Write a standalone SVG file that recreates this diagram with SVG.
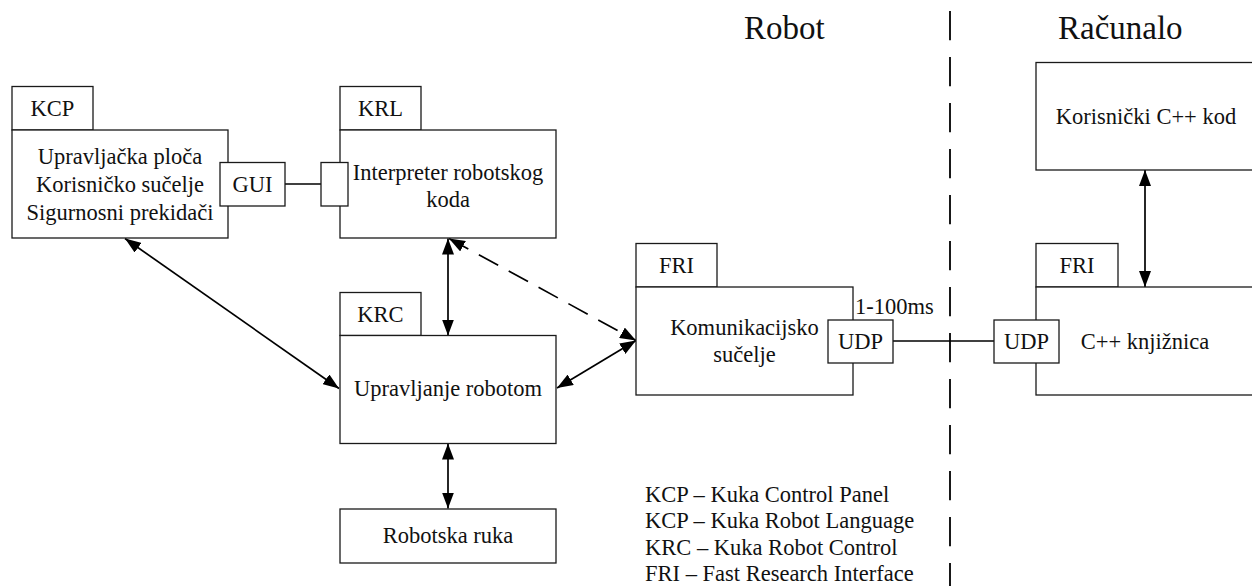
<svg xmlns="http://www.w3.org/2000/svg" width="1252" height="586" viewBox="0 0 1252 586">
<defs>
<style>
.box{fill:#fff;stroke:#1a1a1a;stroke-width:1.3}
.t{font-family:"Liberation Serif","Times New Roman",serif;font-size:22.5px;fill:#111;text-anchor:middle}
.tl{font-family:"Liberation Serif","Times New Roman",serif;font-size:22.5px;fill:#111}
.title{font-family:"Liberation Serif","Times New Roman",serif;font-size:33px;fill:#111}
.con{stroke:#000;stroke-width:1.7;fill:none}
.arr{marker-start:url(#ah);marker-end:url(#ah)}
</style>
<marker id="ah" markerUnits="userSpaceOnUse" markerWidth="17" markerHeight="12" refX="16" refY="6" orient="auto-start-reverse">
<path d="M0,0 L16,6 L0,12 z" fill="#000"/>
</marker>
</defs>
<rect width="1252" height="586" fill="#fff"/>

<g id="titles">
<text class="title" x="744" y="39">Robot</text>
<text class="title" x="1058" y="39">Računalo</text>
</g>

<g id="divider">
<line x1="950" y1="11" x2="950" y2="586" stroke="#000" stroke-width="1.8" stroke-dasharray="29.3 16.7"/>
</g>

<g id="connectors">
<line class="con" x1="285" y1="184" x2="321" y2="184"/>
<line class="con" x1="893" y1="341" x2="994" y2="341"/>
<line class="con arr" x1="125" y1="238.5" x2="339" y2="388.5"/>
<line class="con arr" x1="448" y1="238.5" x2="448" y2="335.5"/>
<line class="con arr" x1="448" y1="443.5" x2="448" y2="508.5"/>
<line class="con arr" x1="557" y1="388" x2="636" y2="340.5"/>
<line class="con arr" x1="449" y1="238.5" x2="636" y2="340.5" stroke-dasharray="22 12"/>
<line class="con arr" x1="1145" y1="170" x2="1145" y2="287"/>
</g>

<g id="kcp">
<rect class="box" x="12" y="86.5" width="81" height="43.5"/>
<text class="t" x="52.5" y="116">KCP</text>
<rect class="box" x="12" y="130" width="216" height="108"/>
<text class="t" x="120" y="164">Upravljačka ploča</text>
<text class="t" x="120" y="192">Korisničko sučelje</text>
<text class="t" x="120" y="220">Sigurnosni prekidači</text>
</g>

<g id="krl">
<rect class="box" x="340" y="86.5" width="81" height="43.5"/>
<text class="t" x="380.5" y="116">KRL</text>
<rect class="box" x="340" y="130" width="216" height="108"/>
<text class="t" x="448" y="180">Interpreter robotskog</text>
<text class="t" x="448" y="207">koda</text>
</g>

<g id="gui">
<rect class="box" x="220" y="162.5" width="65" height="43.5"/>
<text class="t" x="252.5" y="192">GUI</text>
</g>

<g id="krl-port">
<rect class="box" x="321" y="162.5" width="27" height="43.5"/>
</g>

<g id="krc">
<rect class="box" x="340" y="292.5" width="81" height="43"/>
<text class="t" x="380.5" y="322">KRC</text>
<rect class="box" x="340" y="335.5" width="216" height="108"/>
<text class="t" x="448" y="396">Upravljanje robotom</text>
</g>

<g id="ruka">
<rect class="box" x="340" y="509" width="216" height="54"/>
<text class="t" x="448" y="543">Robotska ruka</text>
</g>

<g id="fri-robot">
<rect class="box" x="636" y="243.5" width="81" height="43.5"/>
<text class="t" x="676.5" y="273">FRI</text>
<rect class="box" x="636" y="287" width="217" height="108"/>
<text class="t" x="744.5" y="335">Komunikacijsko</text>
<text class="t" x="744.5" y="362">sučelje</text>
<text class="tl" x="855" y="314">1-100ms</text>
</g>

<g id="udp-robot">
<rect class="box" x="828" y="320" width="65" height="43"/>
<text class="t" x="860.5" y="349">UDP</text>
</g>

<g id="user-code">
<rect class="box" x="1036" y="62.5" width="230" height="107.5"/>
<text class="t" x="1146" y="124">Korisnički C++ kod</text>
</g>

<g id="fri-pc">
<rect class="box" x="1036" y="243.5" width="82" height="43.5"/>
<text class="t" x="1077" y="273">FRI</text>
<rect class="box" x="1036" y="287" width="230" height="108"/>
<text class="t" x="1145" y="349">C++ knjižnica</text>
</g>

<g id="udp-pc">
<rect class="box" x="994" y="320" width="65" height="43"/>
<text class="t" x="1026.5" y="349">UDP</text>
</g>

<g id="legend">
<text class="tl" x="645" y="502">KCP – Kuka Control Panel</text>
<text class="tl" x="645" y="528">KCP – Kuka Robot Language</text>
<text class="tl" x="645" y="555">KRC – Kuka Robot Control</text>
<text class="tl" x="645" y="581">FRI – Fast Research Interface</text>
</g>
</svg>
